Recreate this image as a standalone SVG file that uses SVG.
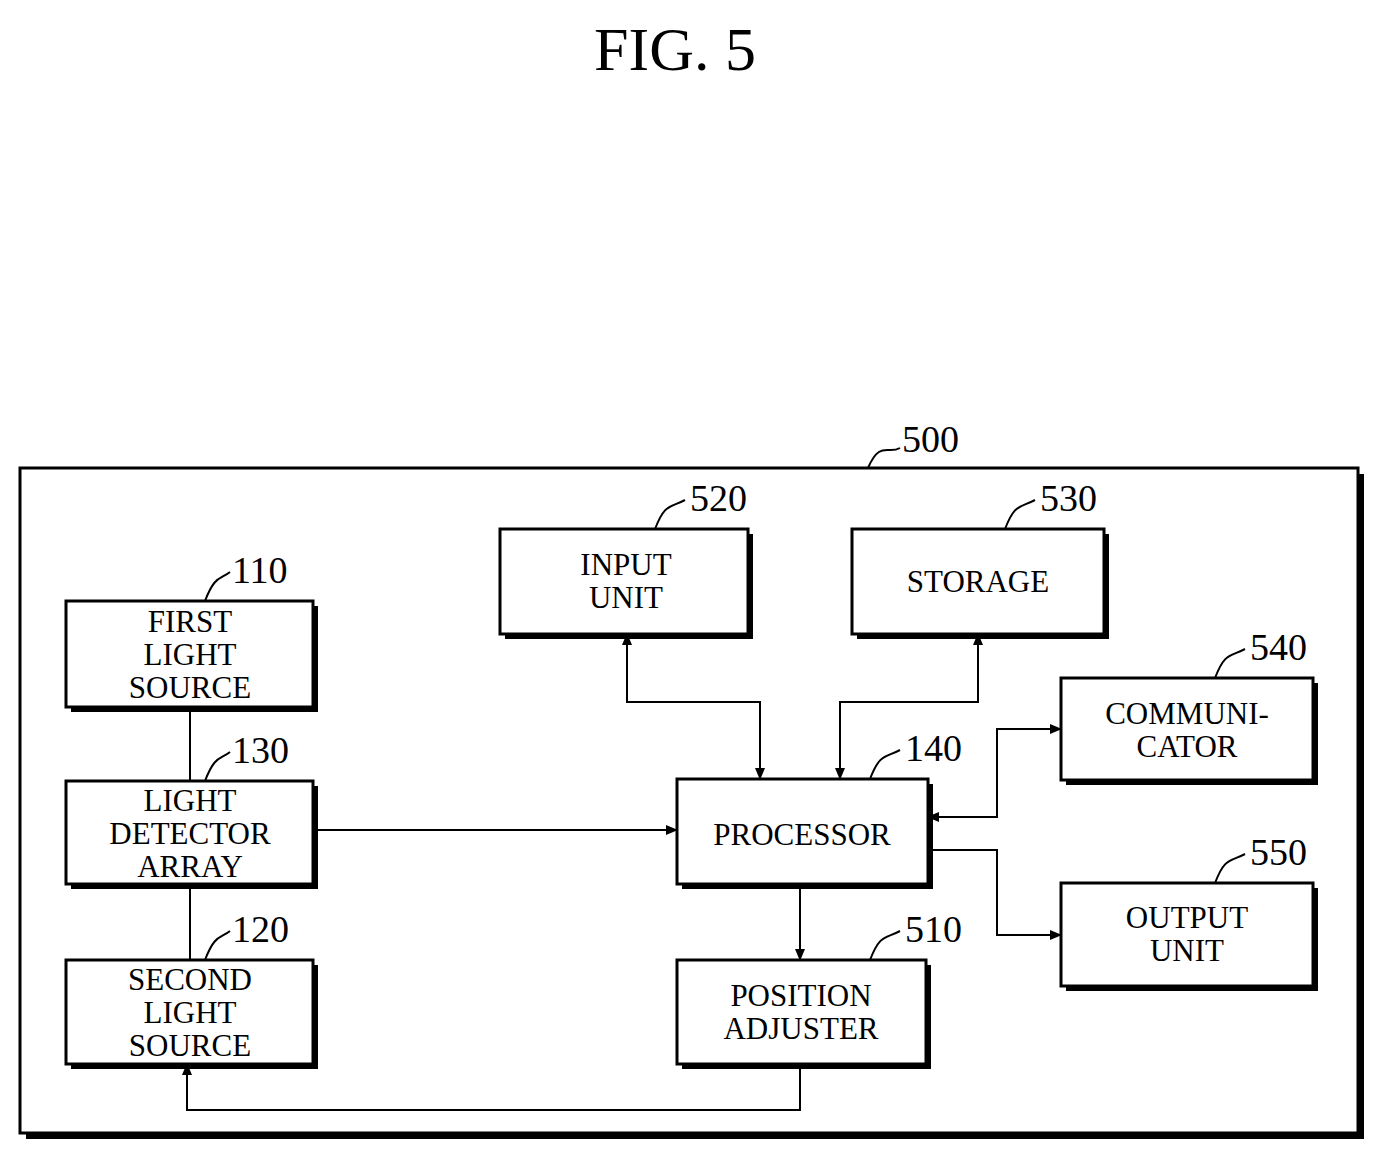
<svg xmlns="http://www.w3.org/2000/svg" width="1389" height="1163" viewBox="0 0 1389 1163">
<defs>
<marker id="ah" markerWidth="12" markerHeight="10" refX="11" refY="5" orient="auto-start-reverse" markerUnits="userSpaceOnUse"><path d="M0,0 L12,5 L0,10 Z" fill="#000"/></marker>
</defs>
<style>
.b{fill:#fff;stroke:#000;stroke-width:3}
.s{fill:#000}
.t{font-family:"Liberation Serif",serif;font-size:31px;text-anchor:middle;fill:#000}
.n{font-family:"Liberation Serif",serif;font-size:38px;fill:#000}
.l{fill:none;stroke:#000;stroke-width:2}
</style>
<rect width="1389" height="1163" fill="#fff"/>
<text x="675" y="70" class="t" style="font-size:62px">FIG. 5</text>
<g id="n500"><rect x="26" y="474" width="1338" height="665" class="s"/><rect x="20" y="468" width="1338" height="665" class="b"/>
<path class="l" d="M868,468 C880,440 888,455 900,448"/><text x="902" y="452" class="n">500</text></g>
<g id="n110"><rect x="71" y="606" width="247" height="106" class="s"/><rect x="66" y="601" width="247" height="106" class="b"/>
<text class="t" x="190" y="632">FIRST</text><text class="t" x="190" y="665">LIGHT</text><text class="t" x="190" y="698">SOURCE</text>
<path class="l" d="M205,601 C215,575 220,580 230,572"/><text x="232" y="583" class="n">110</text></g>
<g id="n130"><rect x="71" y="786" width="247" height="103" class="s"/><rect x="66" y="781" width="247" height="103" class="b"/>
<text class="t" x="190" y="811">LIGHT</text><text class="t" x="190" y="844">DETECTOR</text><text class="t" x="190" y="877">ARRAY</text>
<path class="l" d="M205,781 C215,755 220,760 230,752"/><text x="232" y="763" class="n">130</text></g>
<g id="n120"><rect x="71" y="965" width="247" height="104" class="s"/><rect x="66" y="960" width="247" height="104" class="b"/>
<text class="t" x="190" y="990">SECOND</text><text class="t" x="190" y="1023">LIGHT</text><text class="t" x="190" y="1056">SOURCE</text>
<path class="l" d="M205,960 C215,934 220,939 230,931"/><text x="232" y="942" class="n">120</text></g>
<g id="n520"><rect x="505" y="534" width="248" height="105" class="s"/><rect x="500" y="529" width="248" height="105" class="b"/>
<text class="t" x="626" y="575">INPUT</text><text class="t" x="626" y="608">UNIT</text>
<path class="l" d="M655,529 C665,503 670,508 685,500"/><text x="690" y="511" class="n">520</text></g>
<g id="n530"><rect x="857" y="534" width="252" height="105" class="s"/><rect x="852" y="529" width="252" height="105" class="b"/>
<text class="t" x="978" y="592">STORAGE</text>
<path class="l" d="M1005,529 C1015,503 1020,508 1035,500"/><text x="1040" y="511" class="n">530</text></g>
<g id="n540"><rect x="1066" y="683" width="252" height="102" class="s"/><rect x="1061" y="678" width="252" height="102" class="b"/>
<text class="t" x="1187" y="724">COMMUNI-</text><text class="t" x="1187" y="757">CATOR</text>
<path class="l" d="M1215,678 C1225,652 1230,657 1245,649"/><text x="1250" y="660" class="n">540</text></g>
<g id="n550"><rect x="1066" y="888" width="252" height="103" class="s"/><rect x="1061" y="883" width="252" height="103" class="b"/>
<text class="t" x="1187" y="928">OUTPUT</text><text class="t" x="1187" y="961">UNIT</text>
<path class="l" d="M1215,883 C1225,857 1230,862 1245,854"/><text x="1250" y="865" class="n">550</text></g>
<g id="n140"><rect x="682" y="784" width="251" height="105" class="s"/><rect x="677" y="779" width="251" height="105" class="b"/>
<text class="t" x="802" y="845">PROCESSOR</text>
<path class="l" d="M870,779 C880,753 885,758 900,750"/><text x="905" y="761" class="n">140</text></g>
<g id="n510"><rect x="682" y="965" width="249" height="104" class="s"/><rect x="677" y="960" width="249" height="104" class="b"/>
<text class="t" x="801" y="1006">POSITION</text><text class="t" x="801" y="1039">ADJUSTER</text>
<path class="l" d="M870,960 C880,934 885,939 900,931"/><text x="905" y="942" class="n">510</text></g>
<g id="connectors" class="l">
<path d="M190,707 V781"/><path d="M190,884 V960"/>
<path d="M313,830 H677" marker-end="url(#ah)"/>
<path d="M627,634 V702 H760 V779" marker-start="url(#ah)" marker-end="url(#ah)"/>
<path d="M978,634 V702 H840 V779" marker-start="url(#ah)" marker-end="url(#ah)"/>
<path d="M928,817 H997 V729 H1061" marker-start="url(#ah)" marker-end="url(#ah)"/>
<path d="M928,850 H997 V935 H1061" marker-end="url(#ah)"/>
<path d="M800,884 V960" marker-end="url(#ah)"/>
<path d="M800,1069 V1110 H187 V1064" marker-end="url(#ah)"/>
</g>
</svg>
